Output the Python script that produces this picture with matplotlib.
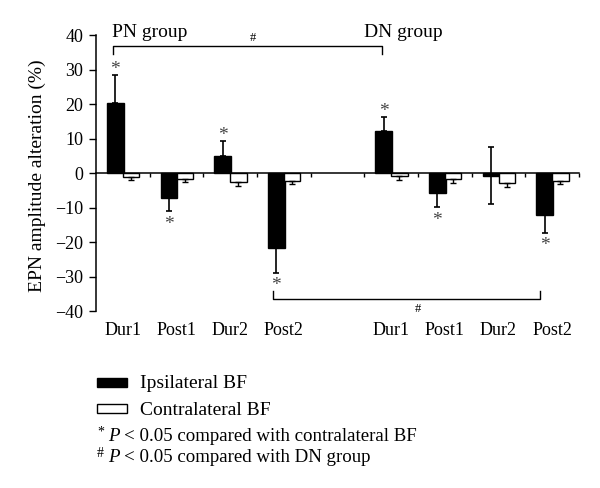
import matplotlib
matplotlib.use("Agg")
import matplotlib.pyplot as plt
import matplotlib.transforms as mtransforms
from matplotlib.patches import Rectangle

plt.rcParams['font.family'] = ['Liberation Serif', 'DejaVu Serif']

# ---- data ----
groups = ['PN group', 'DN group']
conditions = ['Dur1', 'Post1', 'Dur2', 'Post2']
ipsi_pn = [20.4, -7.1, 5.0, -21.5]
ipsi_dn = [12.4, -5.7, -0.6, -12.0]
ipsi_err_lo_pn = [0.0, 3.8, 0.0, 7.2]
ipsi_err_hi_pn = [8.2, 0.0, 4.5, 0.0]
ipsi_err_lo_dn = [0.0, 4.0, 8.3, 5.2]
ipsi_err_hi_dn = [4.1, 0.0, 8.3, 0.0]
contra_pn = [-0.9, -1.6, -2.6, -2.1]
contra_dn = [-0.7, -1.7, -2.9, -2.3]
contra_err_pn = [1.1, 1.0, 1.1, 0.9]
contra_err_dn = [1.2, 1.0, 0.9, 0.8]
# significance stars (ipsilateral vs contralateral): True where marked
star_pn = [True, True, True, True]
star_dn = [True, True, False, True]
yticks = [40, 30, 20, 10, 0, -10, -20, -30, -40]
legend_labels = ['Ipsilateral BF', 'Contralateral BF']
notes = [('*', '< 0.05 compared with contralateral BF'),
         ('#', '< 0.05 compared with DN group')]

# ---- layout ----
fig = plt.figure(figsize=(6.0, 4.88), dpi=100)
ax = fig.add_axes([0.16, 0.3617, 0.805, 0.5656])

n = len(conditions)
slots_pn = list(range(n))
slots_dn = [n + 1 + i for i in range(n)]
slots = slots_pn + slots_dn
ipsi = ipsi_pn + ipsi_dn
contra = contra_pn + contra_dn
ipsi_lo = ipsi_err_lo_pn + ipsi_err_lo_dn
ipsi_hi = ipsi_err_hi_pn + ipsi_err_hi_dn
contra_err = contra_err_pn + contra_err_dn
stars = star_pn + star_dn

w = 0.31
xb = [s + 0.36 for s in slots]
xw = [s + 0.655 for s in slots]

ax.bar(xb, ipsi, width=w, color='black', edgecolor='black', linewidth=1.0, zorder=2)
ax.bar(xw, contra, width=w, color='white', edgecolor='black', linewidth=1.0, zorder=2)
ax.errorbar(xb, ipsi, yerr=[ipsi_lo, ipsi_hi], fmt='none', ecolor='black',
            elinewidth=1.2, capsize=2, capthick=1.2, zorder=3)
ax.errorbar(xw, contra, yerr=[contra_err, [0] * len(contra)], fmt='none', ecolor='black',
            elinewidth=1.0, capsize=2, capthick=1.0, zorder=3)

for x, v, lo, hi, s in zip(xb, ipsi, ipsi_lo, ipsi_hi, stars):
    if not s:
        continue
    if v >= 0:
        ax.text(x, v + hi + 1.5, '*', ha='center', va='center', fontsize=14, color='#444444')
    else:
        ax.text(x, v - lo - 3.8, '*', ha='center', va='center', fontsize=14, color='#444444')

ax.set_xlim(0, 2 * n + 1)
ax.set_ylim(-40, 40)
ax.set_yticks(yticks)
ax.set_yticklabels([('\u2212' + str(-t)) if t < 0 else str(t) for t in yticks])
ax.tick_params(axis='y', length=5, width=1.0, pad=4, labelsize=13, direction='out')
ax.set_xticks(range(1, 2 * n + 2))
ax.set_xticklabels([])
ax.tick_params(axis='x', length=3, width=1.0, direction='out')

ax.spines['top'].set_visible(False)
ax.spines['right'].set_visible(False)
ax.spines['bottom'].set_position(('data', 0))
ax.spines['left'].set_linewidth(1.1)
ax.spines['bottom'].set_linewidth(1.1)

trans = mtransforms.blended_transform_factory(ax.transData, fig.transFigure)
for s, lab in zip(slots, conditions + conditions):
    ax.text(s + 0.5, 0.3135, lab, transform=trans, ha='center', va='baseline', fontsize=13)

fig.text(0.062, 0.64, 'EPN amplitude alteration (%)', fontsize=14, rotation=90,
         ha='center', va='center')

# group labels and comparison brackets
ax.text(0.29, 39.5, groups[0], ha='left', va='baseline', fontsize=14)
ax.text(5.0, 39.5, groups[1], ha='left', va='baseline', fontsize=14)
ax.plot([0.32, 0.32, 5.32, 5.32], [34.6, 37.0, 37.0, 34.6], color='black', lw=1.0, clip_on=False)
ax.text(2.93, 39.4, '#', ha='center', va='center', fontsize=9)
ax.plot([3.3, 3.3, 8.28, 8.28], [-34.0, -36.5, -36.5, -34.0], color='black', lw=1.0, clip_on=False)
ax.text(6.0, -39.2, '#', ha='center', va='center', fontsize=9)

# legend
fig.patches.append(Rectangle((0.1617, 0.2064), 0.05, 0.0184, transform=fig.transFigure,
                             facecolor='black', edgecolor='black', lw=1.0))
fig.patches.append(Rectangle((0.1617, 0.1531), 0.05, 0.0184, transform=fig.transFigure,
                             facecolor='white', edgecolor='black', lw=1.0))
fig.text(0.2333, 0.2043, legend_labels[0], fontsize=14, va='baseline')
fig.text(0.2333, 0.1496, legend_labels[1], fontsize=14, va='baseline')
for (sym, txt), yb, off in zip(notes, [0.0969, 0.0539], [0.011, 0.010]):
    fig.text(0.1617, yb + off, sym, fontsize=10, va='baseline')
    fig.text(0.180, yb, 'P', fontsize=13.6, style='italic', va='baseline')
    fig.text(0.207, yb, txt, fontsize=13.6, va='baseline')

fig.savefig('out.png', dpi=100)
